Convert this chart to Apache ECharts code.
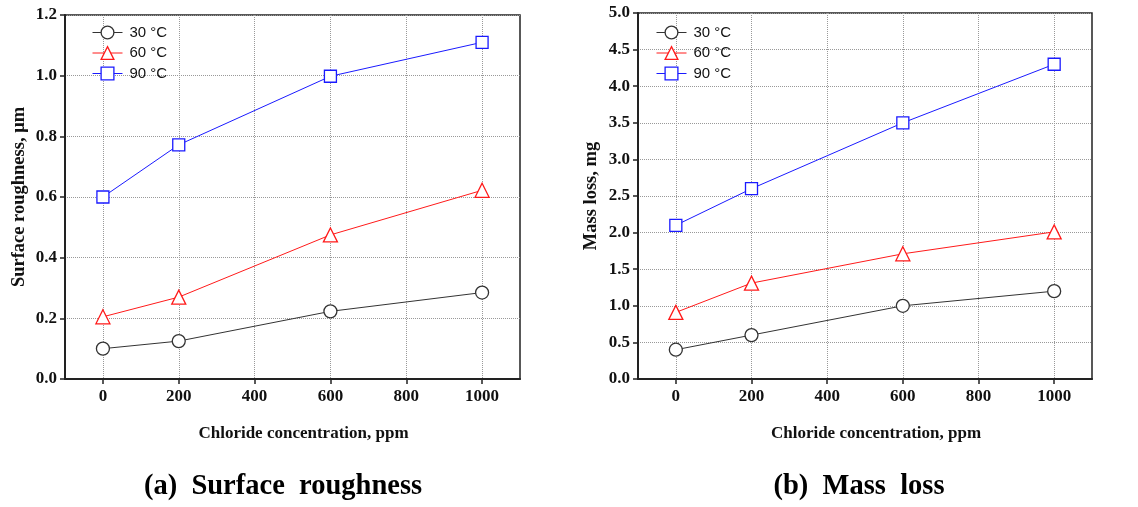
<!DOCTYPE html>
<html><head><meta charset="utf-8">
<script src="https://cdn.jsdelivr.net/npm/echarts@6/dist/echarts.min.js"></script>
<style>html,body{margin:0;padding:0;background:#fff}#c{width:1138px;height:507px}</style>
</head><body><div id="c"></div>
<script>
const chloride = [0, 200, 600, 1000];
const xTicks = [0, 200, 400, 600, 800, 1000];
const seriesNames = ['30 °C', '60 °C', '90 °C'];
const roughness30 = [0.10, 0.125, 0.223, 0.285];
const roughness60 = [0.205, 0.27, 0.475, 0.622];
const roughness90 = [0.60, 0.772, 0.998, 1.11];
const mass30 = [0.40, 0.60, 1.00, 1.20];
const mass60 = [0.91, 1.31, 1.71, 2.01];
const mass90 = [2.10, 2.60, 3.50, 4.30];

const colors = ['#333333', '#ff1a1a', '#1a1aff'];
const symbols = ['circle', 'triangle', 'rect'];
const sizes = [13, 14, 12];
const serif = 'Liberation Serif';

function pairs(vals) { return chloride.map((x, i) => [x, vals[i]]); }

const grids = [
  { left: 65, top: 15, width: 455, height: 364 },
  { left: 638, top: 13, width: 454, height: 366 }
];

function xAxis(gi) {
  return {
    type: 'value', gridIndex: gi, min: -100, max: 1100,
    name: 'Chloride concentration, ppm', nameLocation: 'middle', nameGap: 46,
    nameTextStyle: { fontFamily: serif, fontWeight: 'bold', fontSize: 17, color: '#111', padding: [0, 0, 0, 22] },
    axisLine: { show: true, onZero: false, lineStyle: { color: '#222', width: 2 } },
    axisTick: { show: true, length: 5, inside: false, customValues: xTicks, lineStyle: { color: '#222', width: 1.5 } },
    axisLabel: { customValues: xTicks, margin: 9, fontFamily: serif, fontWeight: 'bold', fontSize: 17, color: '#111', formatter: v => String(v) },
    splitLine: { show: true, lineStyle: { color: '#999', type: 'dotted', width: 1 } }
  };
}
function yAxis(gi, max, interval, name, gap, nameSize) {
  return {
    type: 'value', gridIndex: gi, min: 0, max: max, interval: interval,
    name: name, nameLocation: 'middle', nameGap: gap,
    nameTextStyle: { fontFamily: serif, fontWeight: 'bold', fontSize: nameSize, color: '#111' },
    axisLine: { show: true, onZero: false, lineStyle: { color: '#222', width: 2 } },
    axisTick: { show: true, length: 5, inside: false, lineStyle: { color: '#222', width: 1.5 } },
    axisLabel: { margin: 8, fontFamily: serif, fontWeight: 'bold', fontSize: 17, color: '#111', formatter: v => v.toFixed(1) },
    splitLine: { show: true, lineStyle: { color: '#999', type: 'dotted', width: 1 } }
  };
}

function mkSeries(gi, data) {
  return data.map((vals, i) => ({
    name: seriesNames[i], type: 'line', xAxisIndex: gi, yAxisIndex: gi,
    data: pairs(vals), symbol: symbols[i], symbolSize: sizes[i], showAllSymbol: true,
    lineStyle: { color: colors[i], width: 1 },
    itemStyle: { color: '#fff', borderColor: colors[i], borderWidth: 1.3 },
    z: 3, animation: false
  }));
}

function legend(left) {
  return {
    orient: 'vertical', left: left, top: 20, itemWidth: 30, itemHeight: 16, itemGap: 5.5,
    data: seriesNames.map(n => ({ name: n })),
    lineStyle: { width: 1 },
    itemStyle: { borderWidth: 1.3 },
    textStyle: { fontFamily: 'Liberation Sans', fontSize: 15, color: '#111', padding: [0, 0, 0, 2] },
    selectedMode: false
  };
}

const chart = echarts.init(document.getElementById('c'), null, { renderer: 'canvas' });
const opt = {
  animation: false,
  backgroundColor: '#fff',
  grid: grids.map(g => Object.assign({ show: true, borderColor: '#222', borderWidth: 1.5, backgroundColor: 'transparent' }, g)),
  xAxis: [xAxis(0), xAxis(1)],
  yAxis: [
    yAxis(0, 1.2, 0.2, 'Surface roughness, μm', 36, 18.5),
    yAxis(1, 5.0, 0.5, 'Mass loss, mg', 37, 18.5)
  ],
  legend: [legend(87), legend(651)],
  series: mkSeries(0, [roughness30, roughness60, roughness90]).concat(mkSeries(1, [mass30, mass60, mass90])),
  graphic: [
    { type: 'text', style: { text: '(a)  Surface  roughness', x: 283, y: 487, align: 'center', verticalAlign: 'middle', font: 'bold 28.5px "Liberation Serif"', fill: '#000' } },
    { type: 'text', style: { text: '(b)  Mass  loss', x: 859, y: 487, align: 'center', verticalAlign: 'middle', font: 'bold 28.5px "Liberation Serif"', fill: '#000' } }
  ]
};
chart.setOption(opt);
</script></body></html>
